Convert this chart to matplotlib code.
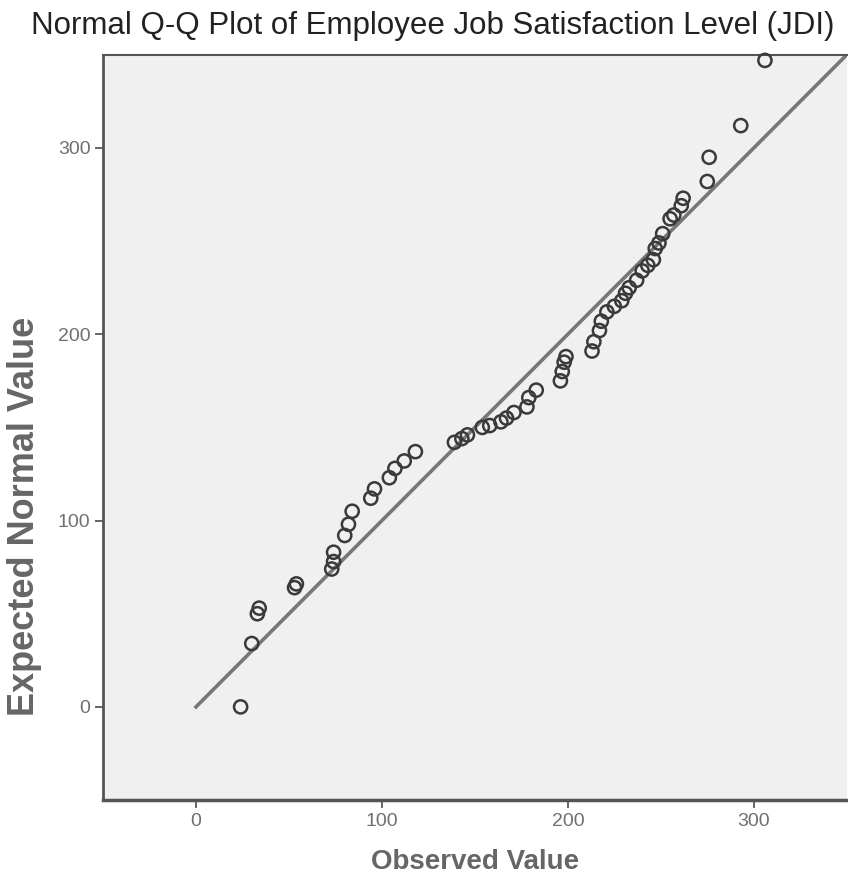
import numpy as np
import matplotlib
matplotlib.use('Agg')
import matplotlib.pyplot as plt

# --- Normal Q-Q plot ---
observed = [24, 30, 33, 34, 53, 54, 73, 74, 74, 80, 82, 84, 94, 96, 104, 107,
            112, 118, 139, 143, 146, 154, 158, 164, 167, 171, 178, 179, 183,
            196, 197, 198, 199, 213, 214, 217, 218, 221, 225, 229, 231, 233,
            237, 240, 243, 246, 247, 249, 251, 255, 257, 261, 262, 275, 276,
            293, 306]
expected = [0, 34, 50, 53, 64, 66, 74, 78, 83, 92, 98, 105, 112, 117, 123, 128,
            132, 137, 142, 144, 146, 150, 151, 153, 155, 158, 161, 166, 170,
            175, 180, 185, 188, 191, 196, 202, 207, 212, 215, 218, 222, 225,
            229, 234, 237, 240, 246, 249, 254, 262, 264, 269, 273, 282, 295,
            312, 347]
ref_line = [0, 350]
ticks = [0, 100, 200, 300]

plt.rcParams['font.family'] = ['Liberation Sans', 'DejaVu Sans']

fig = plt.figure(figsize=(8.48, 8.84), dpi=100)
ax = fig.add_axes([0.1215, 0.095, 0.877, 0.843])
ax.set_facecolor('#F0F0F0')

ax.plot(ref_line, ref_line, color='#777777', linewidth=2.6, zorder=2)
ax.scatter(observed, expected, s=90, facecolors='none', edgecolors='#3a3a3a',
           linewidths=1.8, zorder=3, clip_on=False)

ax.set_xlim(-50, 350)
ax.set_ylim(-50, 350)
ax.set_xticks(ticks)
ax.set_yticks(ticks)
ax.tick_params(direction='out', length=6, width=1.4, colors='#666666',
               labelsize=14, labelcolor='#707070', pad=3)

for side in ['left', 'bottom', 'top', 'right']:
    ax.spines[side].set_color('#555555')
ax.spines['left'].set_linewidth(2.0)
ax.spines['bottom'].set_linewidth(2.5)
ax.spines['top'].set_linewidth(1.5)
ax.spines['right'].set_visible(False)

ax.set_xlabel('Observed Value', fontsize=20, fontweight='bold',
              color='#666666', labelpad=14)
ax.set_ylabel('Expected Normal Value', fontsize=26, fontweight='bold',
              color='#666666')
# label sits lower than the axes centre in the original
ax.yaxis.set_label_coords(-0.082, 0.38)
fig.suptitle('Normal Q-Q Plot of Employee Job Satisfaction Level (JDI)',
             fontsize=22.5, color='#222222', x=0.51, y=0.988)

fig.savefig('out.png', dpi=100)
